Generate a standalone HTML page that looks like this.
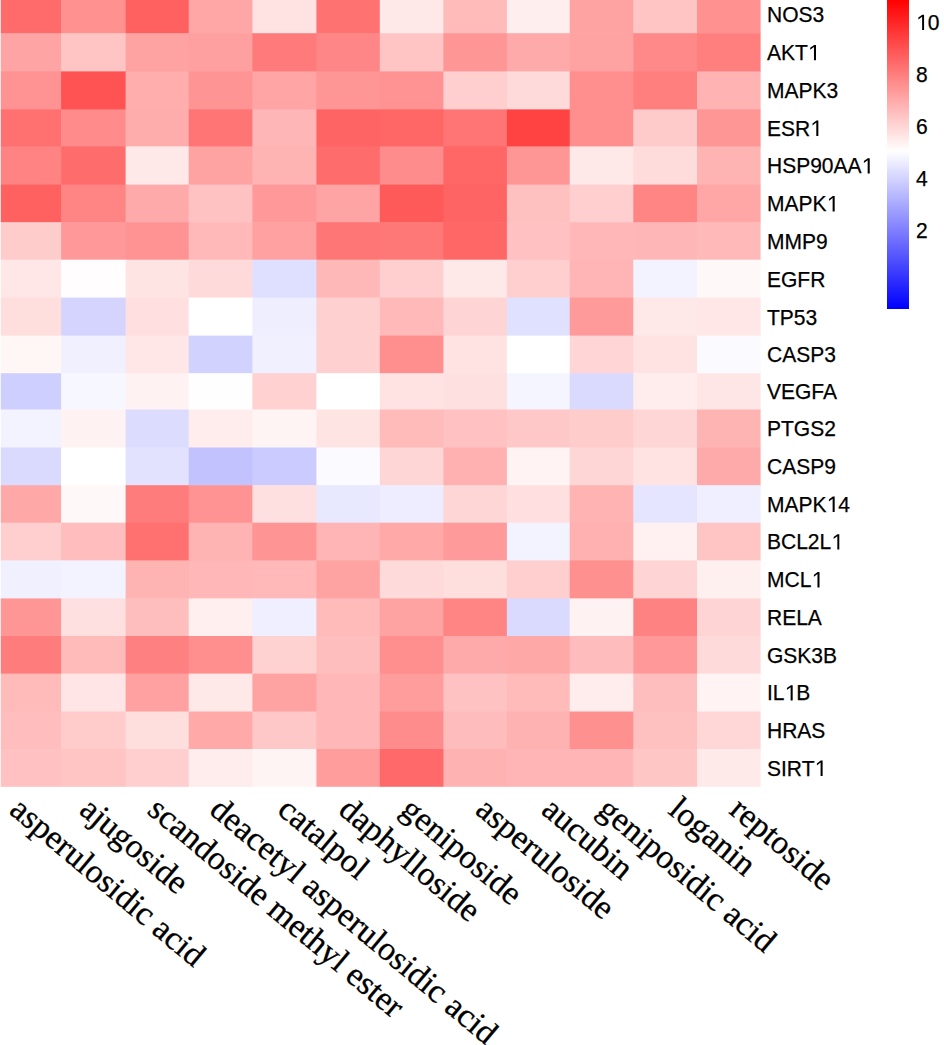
<!DOCTYPE html>
<html><head><meta charset="utf-8"><style>
html,body{margin:0;padding:0;background:#fff;}
body{width:944px;height:1045px;position:relative;overflow:hidden;}
svg.hm{position:absolute;left:0;top:0;}
.gl{position:absolute;left:766.6px;font-family:"Liberation Sans",sans-serif;font-size:22.5px;line-height:21px;color:#000;white-space:nowrap;transform-origin:0 0;transform:scaleX(0.9333);-webkit-text-stroke:0.25px #000;}
.cl{position:absolute;font-family:"Liberation Serif",serif;font-size:33.7px;line-height:1;color:#000;white-space:nowrap;transform-origin:0 0;transform:rotate(40deg);-webkit-text-stroke:0.3px #000;}
.o{position:relative;color:transparent;-webkit-text-stroke:0;}
.o::after{content:'';position:absolute;left:0;top:0;width:12.5px;height:25px;background:#000;clip-path:polygon(6.55px 20.1px,6.55px 6.8px,2.5px 9.6px,2.5px 7.6px,6.75px 4.75px,8.75px 4.75px,8.75px 20.1px);}
.lg{position:absolute;left:886.8px;top:0;width:21.8px;height:309px;background:linear-gradient(to bottom,#ff0000 0px,#ffffff 151px,#0000ff 309px);}
.ll{position:absolute;left:915.7px;font-family:"Liberation Sans",sans-serif;font-size:22.5px;line-height:21px;color:#000;transform-origin:0 0;transform:scaleX(0.9333);-webkit-text-stroke:0.25px #000;}
</style></head><body>
<svg class="hm" width="944" height="1045">
<rect x="-2.50" y="-5.00" width="64.20" height="38.80" fill="#ff6a6a"/>
<rect x="61.10" y="-5.00" width="65.10" height="38.80" fill="#ff9191"/>
<rect x="125.60" y="-5.00" width="63.70" height="38.80" fill="#ff6161"/>
<rect x="188.70" y="-5.00" width="64.30" height="38.80" fill="#ffa7a7"/>
<rect x="252.40" y="-5.00" width="64.60" height="38.80" fill="#ffe2e2"/>
<rect x="316.40" y="-5.00" width="64.00" height="38.80" fill="#ff7272"/>
<rect x="379.80" y="-5.00" width="64.20" height="38.80" fill="#ffe8e8"/>
<rect x="443.40" y="-5.00" width="64.10" height="38.80" fill="#ffbaba"/>
<rect x="506.90" y="-5.00" width="63.40" height="38.80" fill="#ffeeee"/>
<rect x="569.70" y="-5.00" width="64.20" height="38.80" fill="#ffa2a2"/>
<rect x="633.30" y="-5.00" width="64.30" height="38.80" fill="#ffc4c4"/>
<rect x="697.00" y="-5.00" width="63.60" height="38.80" fill="#ff9191"/>
<rect x="-2.50" y="33.20" width="64.20" height="38.80" fill="#ffa4a4"/>
<rect x="61.10" y="33.20" width="65.10" height="38.80" fill="#ffc4c4"/>
<rect x="125.60" y="33.20" width="63.70" height="38.80" fill="#ffa2a2"/>
<rect x="188.70" y="33.20" width="64.30" height="38.80" fill="#ffa0a0"/>
<rect x="252.40" y="33.20" width="64.60" height="38.80" fill="#ff7b7b"/>
<rect x="316.40" y="33.20" width="64.00" height="38.80" fill="#ff8686"/>
<rect x="379.80" y="33.20" width="64.20" height="38.80" fill="#ffc5c5"/>
<rect x="443.40" y="33.20" width="64.10" height="38.80" fill="#ff9696"/>
<rect x="506.90" y="33.20" width="63.40" height="38.80" fill="#ffaaaa"/>
<rect x="569.70" y="33.20" width="64.20" height="38.80" fill="#ffa2a2"/>
<rect x="633.30" y="33.20" width="64.30" height="38.80" fill="#ff8888"/>
<rect x="697.00" y="33.20" width="63.60" height="38.80" fill="#ff7f7f"/>
<rect x="-2.50" y="71.40" width="64.20" height="38.60" fill="#ff9292"/>
<rect x="61.10" y="71.40" width="65.10" height="38.60" fill="#ff5252"/>
<rect x="125.60" y="71.40" width="63.70" height="38.60" fill="#ffadad"/>
<rect x="188.70" y="71.40" width="64.30" height="38.60" fill="#ff9494"/>
<rect x="252.40" y="71.40" width="64.60" height="38.60" fill="#ffa5a5"/>
<rect x="316.40" y="71.40" width="64.00" height="38.60" fill="#ff9696"/>
<rect x="379.80" y="71.40" width="64.20" height="38.60" fill="#ff9292"/>
<rect x="443.40" y="71.40" width="64.10" height="38.60" fill="#ffcfcf"/>
<rect x="506.90" y="71.40" width="63.40" height="38.60" fill="#ffdada"/>
<rect x="569.70" y="71.40" width="64.20" height="38.60" fill="#ff8e8e"/>
<rect x="633.30" y="71.40" width="64.30" height="38.60" fill="#ff7e7e"/>
<rect x="697.00" y="71.40" width="63.60" height="38.60" fill="#ffb3b3"/>
<rect x="-2.50" y="109.40" width="64.20" height="37.60" fill="#ff7070"/>
<rect x="61.10" y="109.40" width="65.10" height="37.60" fill="#ff8b8b"/>
<rect x="125.60" y="109.40" width="63.70" height="37.60" fill="#ffacac"/>
<rect x="188.70" y="109.40" width="64.30" height="37.60" fill="#ff7575"/>
<rect x="252.40" y="109.40" width="64.60" height="37.60" fill="#ffb6b6"/>
<rect x="316.40" y="109.40" width="64.00" height="37.60" fill="#ff6464"/>
<rect x="379.80" y="109.40" width="64.20" height="37.60" fill="#ff6666"/>
<rect x="443.40" y="109.40" width="64.10" height="37.60" fill="#ff7575"/>
<rect x="506.90" y="109.40" width="63.40" height="37.60" fill="#ff4242"/>
<rect x="569.70" y="109.40" width="64.20" height="37.60" fill="#ff8e8e"/>
<rect x="633.30" y="109.40" width="64.30" height="37.60" fill="#ffcaca"/>
<rect x="697.00" y="109.40" width="63.60" height="37.60" fill="#ff9696"/>
<rect x="-2.50" y="146.40" width="64.20" height="38.80" fill="#ff8383"/>
<rect x="61.10" y="146.40" width="65.10" height="38.80" fill="#ff6c6c"/>
<rect x="125.60" y="146.40" width="63.70" height="38.80" fill="#ffe8e8"/>
<rect x="188.70" y="146.40" width="64.30" height="38.80" fill="#ffa2a2"/>
<rect x="252.40" y="146.40" width="64.60" height="38.80" fill="#ffb4b4"/>
<rect x="316.40" y="146.40" width="64.00" height="38.80" fill="#ff6c6c"/>
<rect x="379.80" y="146.40" width="64.20" height="38.80" fill="#ff8c8c"/>
<rect x="443.40" y="146.40" width="64.10" height="38.80" fill="#ff6666"/>
<rect x="506.90" y="146.40" width="63.40" height="38.80" fill="#ff9696"/>
<rect x="569.70" y="146.40" width="64.20" height="38.80" fill="#ffe8e8"/>
<rect x="633.30" y="146.40" width="64.30" height="38.80" fill="#ffdcdc"/>
<rect x="697.00" y="146.40" width="63.60" height="38.80" fill="#ffb4b4"/>
<rect x="-2.50" y="184.60" width="64.20" height="38.20" fill="#ff6060"/>
<rect x="61.10" y="184.60" width="65.10" height="38.20" fill="#ff8484"/>
<rect x="125.60" y="184.60" width="63.70" height="38.20" fill="#ffaaaa"/>
<rect x="188.70" y="184.60" width="64.30" height="38.20" fill="#ffc2c2"/>
<rect x="252.40" y="184.60" width="64.60" height="38.20" fill="#ff9898"/>
<rect x="316.40" y="184.60" width="64.00" height="38.20" fill="#ffa4a4"/>
<rect x="379.80" y="184.60" width="64.20" height="38.20" fill="#ff5a5a"/>
<rect x="443.40" y="184.60" width="64.10" height="38.20" fill="#ff6464"/>
<rect x="506.90" y="184.60" width="63.40" height="38.20" fill="#ffc0c0"/>
<rect x="569.70" y="184.60" width="64.20" height="38.20" fill="#ffcfcf"/>
<rect x="633.30" y="184.60" width="64.30" height="38.20" fill="#ff8484"/>
<rect x="697.00" y="184.60" width="63.60" height="38.20" fill="#ffa6a6"/>
<rect x="-2.50" y="222.20" width="64.20" height="38.10" fill="#ffcccc"/>
<rect x="61.10" y="222.20" width="65.10" height="38.10" fill="#ff9898"/>
<rect x="125.60" y="222.20" width="63.70" height="38.10" fill="#ff9393"/>
<rect x="188.70" y="222.20" width="64.30" height="38.10" fill="#ffb9b9"/>
<rect x="252.40" y="222.20" width="64.60" height="38.10" fill="#ffa1a1"/>
<rect x="316.40" y="222.20" width="64.00" height="38.10" fill="#ff7676"/>
<rect x="379.80" y="222.20" width="64.20" height="38.10" fill="#ff7878"/>
<rect x="443.40" y="222.20" width="64.10" height="38.10" fill="#ff6666"/>
<rect x="506.90" y="222.20" width="63.40" height="38.10" fill="#ffc1c1"/>
<rect x="569.70" y="222.20" width="64.20" height="38.10" fill="#ffb7b7"/>
<rect x="633.30" y="222.20" width="64.30" height="38.10" fill="#ffb6b6"/>
<rect x="697.00" y="222.20" width="63.60" height="38.10" fill="#ffb9b9"/>
<rect x="-2.50" y="259.70" width="64.20" height="38.50" fill="#ffe7e7"/>
<rect x="61.10" y="259.70" width="65.10" height="38.50" fill="#fffdfd"/>
<rect x="125.60" y="259.70" width="63.70" height="38.50" fill="#ffe4e4"/>
<rect x="188.70" y="259.70" width="64.30" height="38.50" fill="#ffdada"/>
<rect x="252.40" y="259.70" width="64.60" height="38.50" fill="#dfdfff"/>
<rect x="316.40" y="259.70" width="64.00" height="38.50" fill="#ffb8b8"/>
<rect x="379.80" y="259.70" width="64.20" height="38.50" fill="#ffcfcf"/>
<rect x="443.40" y="259.70" width="64.10" height="38.50" fill="#ffe8e8"/>
<rect x="506.90" y="259.70" width="63.40" height="38.50" fill="#ffcfcf"/>
<rect x="569.70" y="259.70" width="64.20" height="38.50" fill="#ffb5b5"/>
<rect x="633.30" y="259.70" width="64.30" height="38.50" fill="#f3f3ff"/>
<rect x="697.00" y="259.70" width="63.60" height="38.50" fill="#fff8f8"/>
<rect x="-2.50" y="297.60" width="64.20" height="38.60" fill="#ffdede"/>
<rect x="61.10" y="297.60" width="65.10" height="38.60" fill="#d4d4ff"/>
<rect x="125.60" y="297.60" width="63.70" height="38.60" fill="#ffdfdf"/>
<rect x="188.70" y="297.60" width="64.30" height="38.60" fill="#ffffff"/>
<rect x="252.40" y="297.60" width="64.60" height="38.60" fill="#eeeeff"/>
<rect x="316.40" y="297.60" width="64.00" height="38.60" fill="#ffd0d0"/>
<rect x="379.80" y="297.60" width="64.20" height="38.60" fill="#ffb9b9"/>
<rect x="443.40" y="297.60" width="64.10" height="38.60" fill="#ffd4d4"/>
<rect x="506.90" y="297.60" width="63.40" height="38.60" fill="#e0e0ff"/>
<rect x="569.70" y="297.60" width="64.20" height="38.60" fill="#ff9a9a"/>
<rect x="633.30" y="297.60" width="64.30" height="38.60" fill="#ffe8e8"/>
<rect x="697.00" y="297.60" width="63.60" height="38.60" fill="#ffe7e7"/>
<rect x="-2.50" y="335.60" width="64.20" height="38.20" fill="#fff6f6"/>
<rect x="61.10" y="335.60" width="65.10" height="38.20" fill="#f0f0ff"/>
<rect x="125.60" y="335.60" width="63.70" height="38.20" fill="#ffe7e7"/>
<rect x="188.70" y="335.60" width="64.30" height="38.20" fill="#d2d2ff"/>
<rect x="252.40" y="335.60" width="64.60" height="38.20" fill="#f0f0ff"/>
<rect x="316.40" y="335.60" width="64.00" height="38.20" fill="#ffd0d0"/>
<rect x="379.80" y="335.60" width="64.20" height="38.20" fill="#ff8f8f"/>
<rect x="443.40" y="335.60" width="64.10" height="38.20" fill="#ffe3e3"/>
<rect x="506.90" y="335.60" width="63.40" height="38.20" fill="#ffffff"/>
<rect x="569.70" y="335.60" width="64.20" height="38.20" fill="#ffd5d5"/>
<rect x="633.30" y="335.60" width="64.30" height="38.20" fill="#ffe2e2"/>
<rect x="697.00" y="335.60" width="63.60" height="38.20" fill="#fafaff"/>
<rect x="-2.50" y="373.20" width="64.20" height="36.90" fill="#cfcfff"/>
<rect x="61.10" y="373.20" width="65.10" height="36.90" fill="#f7f7ff"/>
<rect x="125.60" y="373.20" width="63.70" height="36.90" fill="#fff2f2"/>
<rect x="188.70" y="373.20" width="64.30" height="36.90" fill="#fffefe"/>
<rect x="252.40" y="373.20" width="64.60" height="36.90" fill="#ffd1d1"/>
<rect x="316.40" y="373.20" width="64.00" height="36.90" fill="#ffffff"/>
<rect x="379.80" y="373.20" width="64.20" height="36.90" fill="#ffe3e3"/>
<rect x="443.40" y="373.20" width="64.10" height="36.90" fill="#ffe0e0"/>
<rect x="506.90" y="373.20" width="63.40" height="36.90" fill="#f5f5ff"/>
<rect x="569.70" y="373.20" width="64.20" height="36.90" fill="#dadaff"/>
<rect x="633.30" y="373.20" width="64.30" height="36.90" fill="#ffeded"/>
<rect x="697.00" y="373.20" width="63.60" height="36.90" fill="#ffe6e6"/>
<rect x="-2.50" y="409.50" width="64.20" height="38.60" fill="#f3f3ff"/>
<rect x="61.10" y="409.50" width="65.10" height="38.60" fill="#fff2f2"/>
<rect x="125.60" y="409.50" width="63.70" height="38.60" fill="#dcdcff"/>
<rect x="188.70" y="409.50" width="64.30" height="38.60" fill="#ffeded"/>
<rect x="252.40" y="409.50" width="64.60" height="38.60" fill="#fff4f4"/>
<rect x="316.40" y="409.50" width="64.00" height="38.60" fill="#ffe4e4"/>
<rect x="379.80" y="409.50" width="64.20" height="38.60" fill="#ffbaba"/>
<rect x="443.40" y="409.50" width="64.10" height="38.60" fill="#ffc1c1"/>
<rect x="506.90" y="409.50" width="63.40" height="38.60" fill="#ffc8c8"/>
<rect x="569.70" y="409.50" width="64.20" height="38.60" fill="#ffcccc"/>
<rect x="633.30" y="409.50" width="64.30" height="38.60" fill="#ffd6d6"/>
<rect x="697.00" y="409.50" width="63.60" height="38.60" fill="#ffb4b4"/>
<rect x="-2.50" y="447.50" width="64.20" height="38.30" fill="#dadaff"/>
<rect x="61.10" y="447.50" width="65.10" height="38.30" fill="#ffffff"/>
<rect x="125.60" y="447.50" width="63.70" height="38.30" fill="#e2e2ff"/>
<rect x="188.70" y="447.50" width="64.30" height="38.30" fill="#c2c2ff"/>
<rect x="252.40" y="447.50" width="64.60" height="38.30" fill="#cbcbff"/>
<rect x="316.40" y="447.50" width="64.00" height="38.30" fill="#fbfbff"/>
<rect x="379.80" y="447.50" width="64.20" height="38.30" fill="#ffd6d6"/>
<rect x="443.40" y="447.50" width="64.10" height="38.30" fill="#ffb1b1"/>
<rect x="506.90" y="447.50" width="63.40" height="38.30" fill="#fff3f3"/>
<rect x="569.70" y="447.50" width="64.20" height="38.30" fill="#ffd6d6"/>
<rect x="633.30" y="447.50" width="64.30" height="38.30" fill="#ffe2e2"/>
<rect x="697.00" y="447.50" width="63.60" height="38.30" fill="#ffaaaa"/>
<rect x="-2.50" y="485.20" width="64.20" height="38.10" fill="#ffa8a8"/>
<rect x="61.10" y="485.20" width="65.10" height="38.10" fill="#fff8f8"/>
<rect x="125.60" y="485.20" width="63.70" height="38.10" fill="#ff7c7c"/>
<rect x="188.70" y="485.20" width="64.30" height="38.10" fill="#ff9393"/>
<rect x="252.40" y="485.20" width="64.60" height="38.10" fill="#ffe0e0"/>
<rect x="316.40" y="485.20" width="64.00" height="38.10" fill="#e8e8ff"/>
<rect x="379.80" y="485.20" width="64.20" height="38.10" fill="#ededff"/>
<rect x="443.40" y="485.20" width="64.10" height="38.10" fill="#ffd6d6"/>
<rect x="506.90" y="485.20" width="63.40" height="38.10" fill="#ffdfdf"/>
<rect x="569.70" y="485.20" width="64.20" height="38.10" fill="#ffb3b3"/>
<rect x="633.30" y="485.20" width="64.30" height="38.10" fill="#e5e5ff"/>
<rect x="697.00" y="485.20" width="63.60" height="38.10" fill="#efefff"/>
<rect x="-2.50" y="522.70" width="64.20" height="38.30" fill="#ffcece"/>
<rect x="61.10" y="522.70" width="65.10" height="38.30" fill="#ffbdbd"/>
<rect x="125.60" y="522.70" width="63.70" height="38.30" fill="#ff7070"/>
<rect x="188.70" y="522.70" width="64.30" height="38.30" fill="#ffb4b4"/>
<rect x="252.40" y="522.70" width="64.60" height="38.30" fill="#ff9494"/>
<rect x="316.40" y="522.70" width="64.00" height="38.30" fill="#ffb5b5"/>
<rect x="379.80" y="522.70" width="64.20" height="38.30" fill="#ffa9a9"/>
<rect x="443.40" y="522.70" width="64.10" height="38.30" fill="#ff9a9a"/>
<rect x="506.90" y="522.70" width="63.40" height="38.30" fill="#f3f3ff"/>
<rect x="569.70" y="522.70" width="64.20" height="38.30" fill="#ffb1b1"/>
<rect x="633.30" y="522.70" width="64.30" height="38.30" fill="#fff1f1"/>
<rect x="697.00" y="522.70" width="63.60" height="38.30" fill="#ffc5c5"/>
<rect x="-2.50" y="560.40" width="64.20" height="38.60" fill="#f0f0ff"/>
<rect x="61.10" y="560.40" width="65.10" height="38.60" fill="#f3f3ff"/>
<rect x="125.60" y="560.40" width="63.70" height="38.60" fill="#ffb4b4"/>
<rect x="188.70" y="560.40" width="64.30" height="38.60" fill="#ffb7b7"/>
<rect x="252.40" y="560.40" width="64.60" height="38.60" fill="#ffb9b9"/>
<rect x="316.40" y="560.40" width="64.00" height="38.60" fill="#ffa2a2"/>
<rect x="379.80" y="560.40" width="64.20" height="38.60" fill="#ffdada"/>
<rect x="443.40" y="560.40" width="64.10" height="38.60" fill="#ffdede"/>
<rect x="506.90" y="560.40" width="63.40" height="38.60" fill="#ffcece"/>
<rect x="569.70" y="560.40" width="64.20" height="38.60" fill="#ff9090"/>
<rect x="633.30" y="560.40" width="64.30" height="38.60" fill="#ffd4d4"/>
<rect x="697.00" y="560.40" width="63.60" height="38.60" fill="#fff0f0"/>
<rect x="-2.50" y="598.40" width="64.20" height="38.20" fill="#ff9696"/>
<rect x="61.10" y="598.40" width="65.10" height="38.20" fill="#ffe0e0"/>
<rect x="125.60" y="598.40" width="63.70" height="38.20" fill="#ffbebe"/>
<rect x="188.70" y="598.40" width="64.30" height="38.20" fill="#ffefef"/>
<rect x="252.40" y="598.40" width="64.60" height="38.20" fill="#efefff"/>
<rect x="316.40" y="598.40" width="64.00" height="38.20" fill="#ffbaba"/>
<rect x="379.80" y="598.40" width="64.20" height="38.20" fill="#ffa2a2"/>
<rect x="443.40" y="598.40" width="64.10" height="38.20" fill="#ff8484"/>
<rect x="506.90" y="598.40" width="63.40" height="38.20" fill="#dadaff"/>
<rect x="569.70" y="598.40" width="64.20" height="38.20" fill="#fff2f2"/>
<rect x="633.30" y="598.40" width="64.30" height="38.20" fill="#ff8282"/>
<rect x="697.00" y="598.40" width="63.60" height="38.20" fill="#ffd4d4"/>
<rect x="-2.50" y="636.00" width="64.20" height="38.20" fill="#ff7c7c"/>
<rect x="61.10" y="636.00" width="65.10" height="38.20" fill="#ffbaba"/>
<rect x="125.60" y="636.00" width="63.70" height="38.20" fill="#ff8080"/>
<rect x="188.70" y="636.00" width="64.30" height="38.20" fill="#ff8e8e"/>
<rect x="252.40" y="636.00" width="64.60" height="38.20" fill="#ffd2d2"/>
<rect x="316.40" y="636.00" width="64.00" height="38.20" fill="#ffbebe"/>
<rect x="379.80" y="636.00" width="64.20" height="38.20" fill="#ff8e8e"/>
<rect x="443.40" y="636.00" width="64.10" height="38.20" fill="#ffaaaa"/>
<rect x="506.90" y="636.00" width="63.40" height="38.20" fill="#ffa8a8"/>
<rect x="569.70" y="636.00" width="64.20" height="38.20" fill="#ffbcbc"/>
<rect x="633.30" y="636.00" width="64.30" height="38.20" fill="#ff9999"/>
<rect x="697.00" y="636.00" width="63.60" height="38.20" fill="#ffdada"/>
<rect x="-2.50" y="673.60" width="64.20" height="38.50" fill="#ffbaba"/>
<rect x="61.10" y="673.60" width="65.10" height="38.50" fill="#ffe5e5"/>
<rect x="125.60" y="673.60" width="63.70" height="38.50" fill="#ffa1a1"/>
<rect x="188.70" y="673.60" width="64.30" height="38.50" fill="#ffe8e8"/>
<rect x="252.40" y="673.60" width="64.60" height="38.50" fill="#ffa2a2"/>
<rect x="316.40" y="673.60" width="64.00" height="38.50" fill="#ffb7b7"/>
<rect x="379.80" y="673.60" width="64.20" height="38.50" fill="#ff9c9c"/>
<rect x="443.40" y="673.60" width="64.10" height="38.50" fill="#ffc2c2"/>
<rect x="506.90" y="673.60" width="63.40" height="38.50" fill="#ffbaba"/>
<rect x="569.70" y="673.60" width="64.20" height="38.50" fill="#ffecec"/>
<rect x="633.30" y="673.60" width="64.30" height="38.50" fill="#ffbebe"/>
<rect x="697.00" y="673.60" width="63.60" height="38.50" fill="#fff3f3"/>
<rect x="-2.50" y="711.50" width="64.20" height="38.10" fill="#ffbdbd"/>
<rect x="61.10" y="711.50" width="65.10" height="38.10" fill="#ffcbcb"/>
<rect x="125.60" y="711.50" width="63.70" height="38.10" fill="#ffdede"/>
<rect x="188.70" y="711.50" width="64.30" height="38.10" fill="#ffa9a9"/>
<rect x="252.40" y="711.50" width="64.60" height="38.10" fill="#ffc8c8"/>
<rect x="316.40" y="711.50" width="64.00" height="38.10" fill="#ffb7b7"/>
<rect x="379.80" y="711.50" width="64.20" height="38.10" fill="#ff8c8c"/>
<rect x="443.40" y="711.50" width="64.10" height="38.10" fill="#ffbcbc"/>
<rect x="506.90" y="711.50" width="63.40" height="38.10" fill="#ffb2b2"/>
<rect x="569.70" y="711.50" width="64.20" height="38.10" fill="#ff9090"/>
<rect x="633.30" y="711.50" width="64.30" height="38.10" fill="#ffc0c0"/>
<rect x="697.00" y="711.50" width="63.60" height="38.10" fill="#ffd7d7"/>
<rect x="-2.50" y="749.00" width="64.20" height="37.80" fill="#ffc1c1"/>
<rect x="61.10" y="749.00" width="65.10" height="37.80" fill="#ffc4c4"/>
<rect x="125.60" y="749.00" width="63.70" height="37.80" fill="#ffcece"/>
<rect x="188.70" y="749.00" width="64.30" height="37.80" fill="#ffecec"/>
<rect x="252.40" y="749.00" width="64.60" height="37.80" fill="#fff4f4"/>
<rect x="316.40" y="749.00" width="64.00" height="37.80" fill="#ff9d9d"/>
<rect x="379.80" y="749.00" width="64.20" height="37.80" fill="#ff6969"/>
<rect x="443.40" y="749.00" width="64.10" height="37.80" fill="#ffb2b2"/>
<rect x="506.90" y="749.00" width="63.40" height="37.80" fill="#ffb5b5"/>
<rect x="569.70" y="749.00" width="64.20" height="37.80" fill="#ffb5b5"/>
<rect x="633.30" y="749.00" width="64.30" height="37.80" fill="#ffc6c6"/>
<rect x="697.00" y="749.00" width="63.60" height="37.80" fill="#ffeaea"/>
<rect x="0" y="-5.00" width="1" height="38.80" fill="#ffdada"/>
<rect x="0" y="33.20" width="1" height="38.80" fill="#ffe8e8"/>
<rect x="0" y="71.40" width="1" height="38.60" fill="#ffe4e4"/>
<rect x="0" y="109.40" width="1" height="37.60" fill="#ffdbdb"/>
<rect x="0" y="146.40" width="1" height="38.80" fill="#ffe0e0"/>
<rect x="0" y="184.60" width="1" height="38.20" fill="#ffd7d7"/>
<rect x="0" y="222.20" width="1" height="38.10" fill="#fff2f2"/>
<rect x="0" y="259.70" width="1" height="38.50" fill="#fff9f9"/>
<rect x="0" y="297.60" width="1" height="38.60" fill="#fff7f7"/>
<rect x="0" y="335.60" width="1" height="38.20" fill="#fffdfd"/>
<rect x="0" y="373.20" width="1" height="36.90" fill="#f3f3ff"/>
<rect x="0" y="409.50" width="1" height="38.60" fill="#fcfcff"/>
<rect x="0" y="447.50" width="1" height="38.30" fill="#f6f6ff"/>
<rect x="0" y="485.20" width="1" height="38.10" fill="#ffe9e9"/>
<rect x="0" y="522.70" width="1" height="38.30" fill="#fff3f3"/>
<rect x="0" y="560.40" width="1" height="38.60" fill="#fbfbff"/>
<rect x="0" y="598.40" width="1" height="38.20" fill="#ffe5e5"/>
<rect x="0" y="636.00" width="1" height="38.20" fill="#ffdede"/>
<rect x="0" y="673.60" width="1" height="38.50" fill="#ffeeee"/>
<rect x="0" y="711.50" width="1" height="38.10" fill="#ffeeee"/>
<rect x="0" y="749.00" width="1" height="37.80" fill="#fff0f0"/>
</svg>
<div class="gl" style="top:4.25px">NOS3</div>
<div class="gl" style="top:42.20px">AKT<span class="o">1</span></div>
<div class="gl" style="top:80.30px">MAPK3</div>
<div class="gl" style="top:117.80px">ESR<span class="o">1</span></div>
<div class="gl" style="top:155.40px">HSP90AA<span class="o">1</span></div>
<div class="gl" style="top:193.30px">MAPK<span class="o">1</span></div>
<div class="gl" style="top:230.85px">MMP9</div>
<div class="gl" style="top:268.55px">EGFR</div>
<div class="gl" style="top:306.50px">TP53</div>
<div class="gl" style="top:344.30px">CASP3</div>
<div class="gl" style="top:381.25px">VEGFA</div>
<div class="gl" style="top:418.40px">PTGS2</div>
<div class="gl" style="top:456.25px">CASP9</div>
<div class="gl" style="top:493.85px">MAPK<span class="o">1</span>4</div>
<div class="gl" style="top:531.45px">BCL2L<span class="o">1</span></div>
<div class="gl" style="top:569.30px">MCL<span class="o">1</span></div>
<div class="gl" style="top:607.10px">RELA</div>
<div class="gl" style="top:644.70px">GSK3B</div>
<div class="gl" style="top:682.45px">IL<span class="o">1</span>B</div>
<div class="gl" style="top:720.15px">HRAS</div>
<div class="gl" style="top:757.80px">SIRT<span class="o">1</span></div>
<div class="cl" style="left:26.20px;top:790.80px">asperulosidic acid</div>
<div class="cl" style="left:95.50px;top:790.80px">ajugoside</div>
<div class="cl" style="left:164.00px;top:790.80px">scandoside methyl ester</div>
<div class="cl" style="left:225.80px;top:790.80px">deacetyl asperulosidic acid</div>
<div class="cl" style="left:293.50px;top:790.80px">catalpol</div>
<div class="cl" style="left:354.70px;top:790.80px">daphylloside</div>
<div class="cl" style="left:417.10px;top:790.80px">geniposide</div>
<div class="cl" style="left:491.60px;top:790.80px">asperuloside</div>
<div class="cl" style="left:557.50px;top:790.80px">aucubin</div>
<div class="cl" style="left:614.40px;top:790.80px">geniposidic acid</div>
<div class="cl" style="left:684.80px;top:790.80px">loganin</div>
<div class="cl" style="left:745.80px;top:790.80px">reptoside</div>
<div class="lg"></div>
<div class="ll" style="top:11.9px"><span class="o">1</span>0</div>
<div class="ll" style="top:64px">8</div>
<div class="ll" style="top:116px">6</div>
<div class="ll" style="top:168.2px">4</div>
<div class="ll" style="top:220.2px">2</div>
</body></html>
